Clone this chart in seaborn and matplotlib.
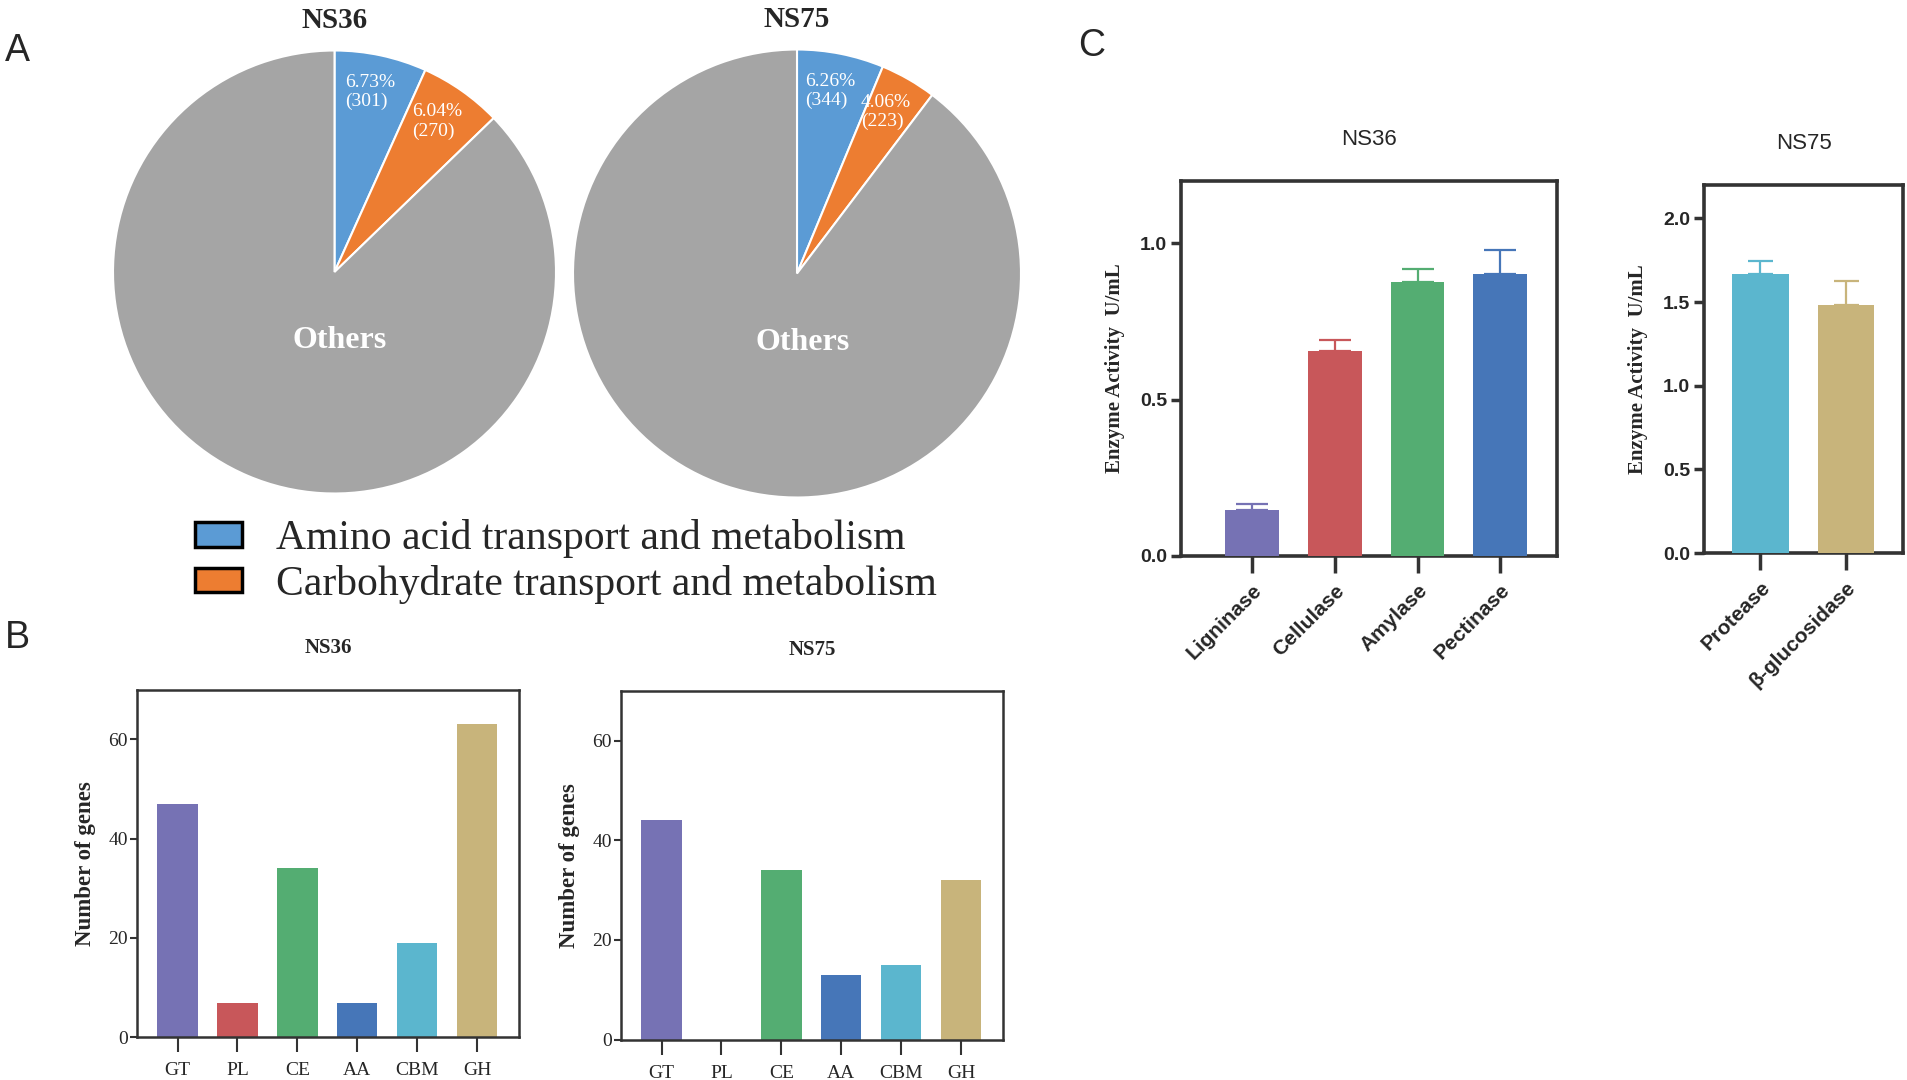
import matplotlib
matplotlib.use("Agg")
import matplotlib.pyplot as plt
from matplotlib.patches import Patch
import matplotlib.ticker as ticker
import seaborn as sns
import numpy as np
import pandas as pd

# Panel A: COG categories per genome
samples = ["NS36", "NS75"]
amino_pct = [6.73, 6.26]
amino_count = [301, 344]
carb_pct = [6.04, 4.06]
carb_count = [270, 223]
legend_labels = ["Amino acid transport and metabolism",
                 "Carbohydrate transport and metabolism"]

# Panel B: CAZy gene counts
cazy_classes = ["GT", "PL", "CE", "AA", "CBM", "GH"]
genes_ns36 = [47, 7, 34, 7, 19, 63]
genes_ns75 = [44, 0, 34, 13, 15, 32]

# Panel C: enzyme activity (U/mL), mean and upper error
enz_ns36 = ["Ligninase", "Cellulase", "Amylase", "Pectinase"]
act_ns36 = [0.145, 0.655, 0.877, 0.903]
err_ns36 = [0.02, 0.036, 0.042, 0.076]
enz_ns75 = ["Protease", "β-glucosidase"]
act_ns75 = [1.665, 1.48]
err_ns75 = [0.08, 0.145]

pie_colors = ["#5B9BD5", "#ED7D31", "#A5A5A5"]
cazy_colors = ["#7672B4", "#C8575A", "#54AD72", "#4676B8", "#5BB6CE", "#C8B47B"]
c36_colors = ["#7672B4", "#C8575A", "#54AD72", "#4676B8"]
c75_colors = ["#5BB6CE", "#C8B47B"]

sns.set_style("ticks")
plt.rcParams["font.family"] = ["Liberation Serif", "DejaVu Serif"]
SANS = ["Liberation Sans", "DejaVu Sans"]
SPINE = "#333333"

W, H = 1907, 1080
fig = plt.figure(figsize=(W / 100, H / 100), dpi=100)


def px_axes(left, top, right, bottom):
    return fig.add_axes([left / W, 1 - bottom / H, (right - left) / W, (bottom - top) / H])


# ---- A: pies
pie_geom = [(334.5, 272, 221.5), (797, 273.5, 224)]
for i, name in enumerate(samples):
    cx, cy, r = pie_geom[i]
    ax = px_axes(cx - r, cy - r, cx + r, cy + r)
    vals = [amino_pct[i], carb_pct[i], 100 - amino_pct[i] - carb_pct[i]]
    wedges, _ = ax.pie(vals, colors=pie_colors, startangle=90, counterclock=False,
                       wedgeprops=dict(edgecolor="white", linewidth=1.5))
    ax.set_xlim(-1, 1)
    ax.set_ylim(-1, 1)
    counts = [amino_count[i], carb_count[i]]
    pcts = [amino_pct[i], carb_pct[i]]
    for w, p, n in zip(wedges[:2], pcts, counts):
        ang = np.deg2rad((w.theta1 + w.theta2) / 2)
        ax.text(0.83 * np.cos(ang) - 0.015, 0.83 * np.sin(ang), f"{p:.2f}%\n({n})",
                color="white", fontsize=14, ha="center", va="center",
                multialignment="left", linespacing=1.15)
    ax.text(0.025, -0.31, "Others", color="white", fontsize=23, fontweight="bold",
            ha="center", va="center")
    ax.set_title(name, fontsize=21, fontweight="bold", pad=16)

fig.legend(handles=[Patch(facecolor=c, edgecolor="black", linewidth=2.5, label=l)
                    for c, l in zip(pie_colors[:2], legend_labels)],
           loc="center left", bbox_to_anchor=(0.102, 0.48), frameon=False,
           fontsize=30, handlelength=1.15, handleheight=0.53, handletextpad=0.8,
           labelspacing=0.16, borderpad=0, borderaxespad=0)


# ---- B: CAZy counts
def cazy_panel(ax, counts, title):
    df = pd.DataFrame({"cls": cazy_classes, "n": counts})
    sns.barplot(data=df, x="cls", y="n", hue="cls", order=cazy_classes,
                hue_order=cazy_classes, palette=cazy_colors, legend=False,
                width=0.67, linewidth=0, saturation=1, ax=ax)
    ax.set_xlim(-0.67, 5.7)
    ax.set_ylim(0, 70)
    ax.set_yticks([0, 20, 40, 60])
    for s in ax.spines.values():
        s.set_visible(True)
        s.set_color(SPINE)
        s.set_linewidth(1.8)
    ax.tick_params(axis="x", length=11, width=1.5, color=SPINE, labelsize=14, pad=7)
    ax.tick_params(axis="y", length=5, width=1.5, color=SPINE, labelsize=14, pad=2)
    ax.set_xlabel("")
    ax.set_ylabel("Number of genes", fontsize=16.5, fontweight="bold", labelpad=9)
    ax.set_title(title, fontsize=15, fontweight="bold", pad=26)


ax_b1 = px_axes(137.4, 689.5, 519.2, 1037.3)
cazy_panel(ax_b1, genes_ns36, "NS36")
ax_b2 = px_axes(621.4, 690.7, 1003.2, 1039.7)
cazy_panel(ax_b2, genes_ns75, "NS75")


# ---- C: enzyme activity
def enzyme_panel(ax, names, vals, errs, colors, title, ymax, yticks, xlim, width, cap):
    df = pd.DataFrame({"enz": names, "act": vals})
    sns.barplot(data=df, x="enz", y="act", hue="enz", order=names, hue_order=names,
                palette=colors, legend=False, width=width, linewidth=0,
                saturation=1, ax=ax, zorder=3)
    for bar, v, e, c in zip(ax.patches, vals, errs, colors):
        xc = bar.get_x() + bar.get_width() / 2
        ax.errorbar(xc, v, yerr=[[0], [e]], fmt="none", ecolor=c, elinewidth=1.6,
                    capsize=cap, capthick=1.6, zorder=2)
    ax.set_xlim(*xlim)
    ax.set_ylim(0, ymax)
    ax.set_yticks(yticks)
    ax.yaxis.set_major_formatter(ticker.FormatStrFormatter("%.1f"))
    for s in ax.spines.values():
        s.set_visible(True)
        s.set_color(SPINE)
        s.set_linewidth(2.6)
    ax.tick_params(axis="x", length=12, width=2.5, color=SPINE, pad=6)
    ax.tick_params(axis="y", length=7, width=2.5, color=SPINE, pad=3)
    for t in ax.get_xticklabels():
        t.set(rotation=45, ha="right", rotation_mode="anchor", fontsize=15,
              fontweight="bold", family=SANS)
    for t in ax.get_yticklabels():
        t.set(fontsize=14, fontweight="bold", family=SANS)
    ax.set_xlabel("")
    ax.set_ylabel("Enzyme Activity  U/mL", fontsize=15, fontweight="bold", labelpad=11)
    ax.set_title(title, fontsize=16, family=SANS, pad=26)


ax_c1 = px_axes(1181, 181, 1556.5, 555.7)
enzyme_panel(ax_c1, enz_ns36, act_ns36, err_ns36, c36_colors, "NS36", 1.2,
             [0, 0.5, 1.0], (-0.86, 3.68), 0.65, 11.5)
ax_c2 = px_axes(1704, 185, 1903, 553)
enzyme_panel(ax_c2, enz_ns75, act_ns75, err_ns75, c75_colors, "NS75", 2.2,
             [0, 0.5, 1.0, 1.5, 2.0], (-0.66, 1.67), 0.66, 9)

# panel letters
for lab, x, y in [("A", 17, 51), ("B", 17, 638), ("C", 1092, 46)]:
    fig.text(x / W, 1 - y / H, lab, fontsize=27, family=SANS, ha="center", va="center")

fig.savefig("out.png", dpi=100)
